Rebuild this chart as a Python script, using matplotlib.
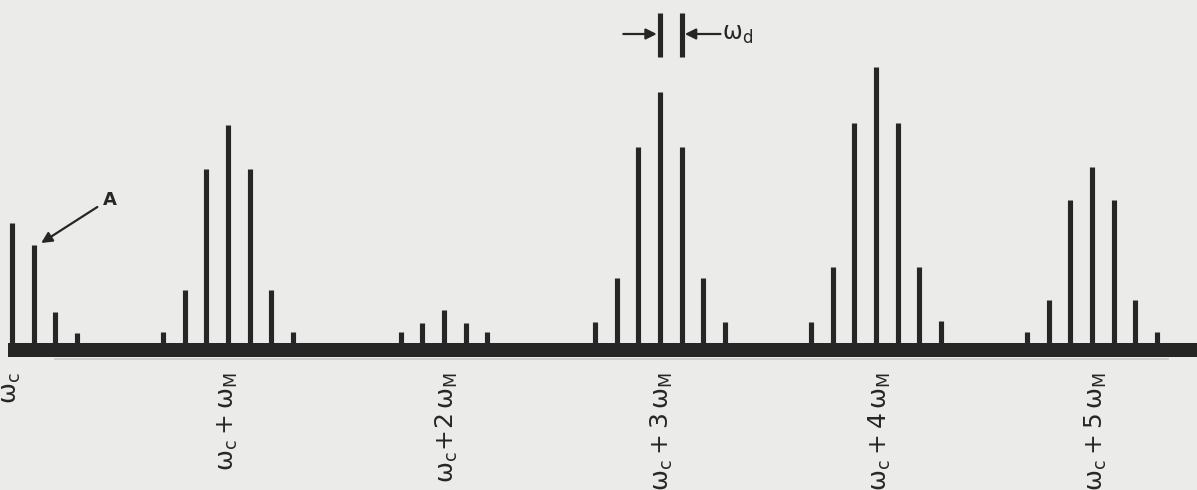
import matplotlib
matplotlib.use("Agg")
import matplotlib.pyplot as plt
from matplotlib.patches import Rectangle

# Spectrum: carrier ω_c with sidebands at ω_c + nω_M, each split into
# fine lines spaced by ω_d (frequency axis measured in units of ω_d).
OMEGA_M = 10  # modulation spacing in units of ω_d

group_orders = [0, 1, 2, 3, 4, 5]
line_offsets = {
    0: [0, 1, 2, 3],
    1: [-3, -2, -1, 0, 1, 2, 3],
    2: [-2, -1, 0, 1, 2],
    3: [-3, -2, -1, 0, 1, 2, 3],
    4: [-3, -2, -1, 0, 1, 2, 3],
    5: [-3, -2, -1, 0, 1, 2, 3],
}
line_amplitudes = {
    0: [1.20, 0.98, 0.31, 0.10],
    1: [0.11, 0.53, 1.74, 2.18, 1.74, 0.53, 0.11],
    2: [0.11, 0.20, 0.33, 0.20, 0.11],
    3: [0.21, 0.65, 1.96, 2.51, 1.96, 0.65, 0.21],
    4: [0.21, 0.76, 2.20, 2.76, 2.20, 0.76, 0.22],
    5: [0.11, 0.43, 1.43, 1.76, 1.43, 0.43, 0.11],
}
group_labels = [
    r"$\mathrm{ω}_\mathrm{c}$",
    r"$\mathrm{ω}_\mathrm{c} + \mathrm{ω}_\mathrm{M}$",
    r"$\mathrm{ω}_\mathrm{c}\!+\!2\,\mathrm{ω}_\mathrm{M}$",
    r"$\mathrm{ω}_\mathrm{c} + 3\,\mathrm{ω}_\mathrm{M}$",
    r"$\mathrm{ω}_\mathrm{c} + 4\,\mathrm{ω}_\mathrm{M}$",
    r"$\mathrm{ω}_\mathrm{c} + 5\,\mathrm{ω}_\mathrm{M}$",
]

INK = "#262626"
PAPER = "#ebebe9"

fig = plt.figure(figsize=(11.97, 4.90), dpi=100, facecolor=PAPER)
ax = fig.add_axes([0, 0, 1, 1])
ax.set_facecolor(PAPER)
ax.set_xlim(-0.556, 54.86)
ax.set_ylim(-1.47, 3.43)
ax.axis("off")

# spectral lines
for n in group_orders:
    xs = [OMEGA_M * n + k for k in line_offsets[n]]
    ax.vlines(xs, -0.05, line_amplitudes[n], colors=INK, linewidth=3.7,
              capstyle="butt", zorder=3)

# heavy baseline
ax.add_patch(Rectangle((-0.19, -0.135), 60, 0.135, facecolor=INK,
                       edgecolor="none", zorder=4))
ax.plot([2.0, 53.5], [-0.155, -0.155], color="#c8c8c6", linewidth=1.2, zorder=2)

# frequency labels
label_x_shift = [-0.05, 0.0, 0.15, 0.1, 0.2, 0.2]
for n, lab, dx in zip(group_orders, group_labels, label_x_shift):
    ax.text(OMEGA_M * n + dx, -0.29, lab, rotation=90, ha="center", va="top",
            fontsize=18, color=INK)

# ω_d spacing marker
ax.vlines([30.0, 31.0], 2.86, 3.30, colors=INK, linewidth=3.7, capstyle="butt")
ax.annotate("", xy=(29.85, 3.09), xytext=(28.3, 3.09),
            arrowprops=dict(arrowstyle="-|>", color=INK, lw=1.6,
                            mutation_scale=16, shrinkA=0, shrinkB=0))
ax.annotate("", xy=(31.15, 3.09), xytext=(32.8, 3.09),
            arrowprops=dict(arrowstyle="-|>", color=INK, lw=1.6,
                            mutation_scale=16, shrinkA=0, shrinkB=0))
ax.text(32.85, 3.09, r"$\mathrm{ω}_\mathrm{d}$", ha="left", va="center",
        fontsize=17, color=INK)

# line A pointer
ax.annotate("", xy=(1.35, 1.0), xytext=(3.95, 1.36),
            arrowprops=dict(arrowstyle="-|>", color=INK, lw=1.6,
                            mutation_scale=16, shrinkA=0, shrinkB=0))
ax.text(4.55, 1.43, "A", ha="center", va="center", fontsize=13,
        fontweight="bold", color=INK)

fig.savefig("out.png", dpi=100, facecolor=PAPER)
